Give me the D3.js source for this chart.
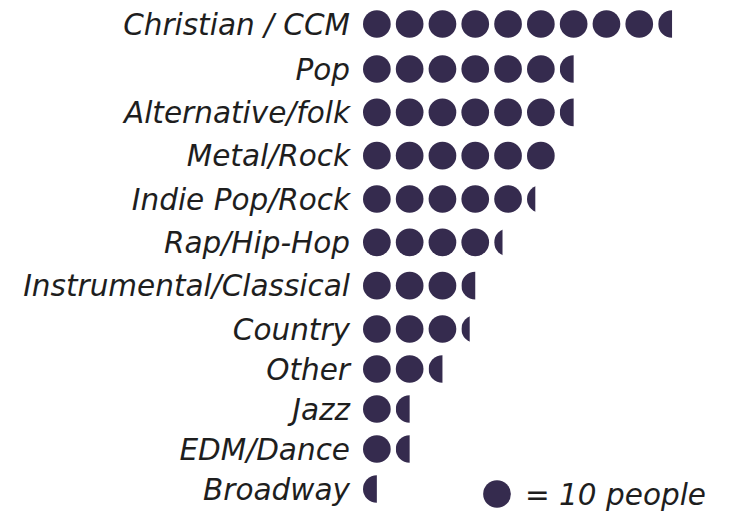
<!DOCTYPE html>
<html>
<head>
<meta charset="utf-8">
<script src="https://cdn.jsdelivr.net/npm/d3@7"></script>
<style>
  body { margin: 0; background: #fff; }
  text { font-family: "DejaVu Sans", "Open Sans", sans-serif; font-style: italic; font-weight: 200; fill: #1e1e1e; }
</style>
</head>
<body>
<div id="chart"></div>
<script>
var genres = ["Christian / CCM", "Pop", "Alternative/folk", "Metal/Rock", "Indie Pop/Rock",
  "Rap/Hip-Hop", "Instrumental/Classical", "Country", "Other", "Jazz", "EDM/Dance", "Broadway"];
var people = [95, 65, 65, 60, 53, 43, 35, 33, 25, 15, 15, 5];
var perDot = 10;
var legendText = "= 10 people";

const W = 733, H = 512;
const dotColor = "#352b4e";

var svg = d3.select("#chart")
  .append("svg")
  .attr("width", W)
  .attr("height", H);

var defs = svg.append("defs");

// one dot step = 10 people
var x = d3.scaleLinear()
  .domain([0, 100])
  .range([363, 363 + 328]);
// rows get a little tighter towards the bottom in the original
var yIdx = d3.scaleLinear()
  .domain([0, 1, 7, 11])
  .range([24, 69, 329, 489]);
var y = function(k) {return yIdx(genres.indexOf(k));};

var diam = 27.7, r = diam / 2;

var rows = genres.map(function(g, i) {return {k: g, v: people[i]};});

var row = svg.selectAll(".row").data(rows)
  .enter().append("g")
  .attr("class", "row")
  .attr("transform", function(d) {return "translate(0," + y(d.k) + ")";});

row.append("text")
  .attr("class", "mlabel")
  .attr("x", 350)
  .attr("dy", "0.36em")
  .attr("text-anchor", "end")
  .style("font-size", "29.5px")
  .text(function(d) {return d.k;});

var dotId = 0;
row.each(function(d) {
  var n = Math.ceil(d.v / perDot);
  var dots = [];
  for (var i = 0; i < n; i++) {
    dots.push({i: i, frac: Math.min(1, (d.v - i * perDot) / perDot)});
  }
  var g = d3.select(this);
  dots.forEach(function(p) {
    var left = x(p.i * perDot);
    var c = g.append("circle")
      .attr("cx", left + r)
      .attr("cy", 0)
      .attr("r", r)
      .style("fill", dotColor);
    if (p.frac < 1) {
      // partial dot: clip to the fraction of its width
      var id = "clip" + (dotId++);
      defs.append("clipPath")
        .attr("id", id)
        .append("rect")
        .attr("x", left)
        .attr("y", -r - 1)
        .attr("width", p.frac * diam)
        .attr("height", diam + 2);
      c.attr("clip-path", "url(#" + id + ")");
    }
  });
});

// legend
var legend = svg.append("g")
  .attr("transform", "translate(497," + y(genres[genres.length - 1]) + ")");
legend.append("circle")
  .attr("cx", 0)
  .attr("cy", 5)
  .attr("r", r)
  .style("fill", dotColor);
legend.append("text")
  .attr("x", 28)
  .attr("y", 5)
  .attr("dy", "0.36em")
  .style("font-size", "29.5px")
  .text(legendText);
</script>
</body>
</html>
